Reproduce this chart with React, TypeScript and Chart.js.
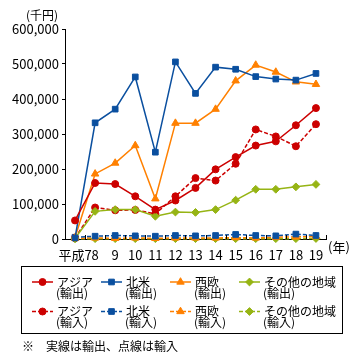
import React, { useEffect, useRef } from "react";
import { Chart, registerables } from "chart.js";

Chart.register(...registerables);

const categories = ["平成7", "8", "9", "10", "11", "12", "13", "14", "15", "16", "17", "18", "19"];

const asiaExport = [53000, 160000, 157000, 122000, 84000, 110000, 146000, 199000, 234000, 267000, 279000, 325000, 374000];
const naExport = [3000, 332000, 371000, 463000, 248000, 506000, 416000, 491000, 485000, 464000, 457000, 454000, 473000];
const euExport = [4000, 186000, 217000, 267000, 115000, 331000, 331000, 371000, 452000, 497000, 477000, 449000, 442000];
const otherExport = [2000, 79000, 84000, 84000, 65000, 77000, 76000, 84000, 111000, 142000, 142000, 149000, 156000];

const asiaImport = [3000, 90000, 82000, 83000, 72000, 122000, 174000, 167000, 215000, 313000, 293000, 265000, 328000];
const naImport = [5000, 8000, 10000, 9000, 8000, 10000, 9000, 10000, 13000, 10000, 9000, 14000, 10000];
const euImport = [2000, 3000, 2000, 3000, 2000, 3000, 3000, 3000, 4000, 3000, 5000, 6000, 7000];
const otherImport = [500, 1000, 1000, 1000, 1000, 1000, 1000, 1000, 1000, 1000, 1000, 1000, 1500];

const seriesNames = ["アジア", "北米", "西欧", "その他の地域"];
const exportLabel = "(輸出)";
const importLabel = "(輸入)";
const yTicks = [0, 100000, 200000, 300000, 400000, 500000, 600000];

const RED = "#cc0000";
const BLUE = "#0a4f9f";
const ORANGE = "#ff8000";
const GREEN = "#96b414";
const FONT = "'Noto Sans CJK JP', 'Noto Sans', sans-serif";

const colors = [RED, BLUE, ORANGE, GREEN];
const styles = ["circle", "rect", "triangle", "rectRot"];
const radii = [3.5, 4, 4.3, 3.9];

function drawMarker(ctx: CanvasRenderingContext2D, style: string, r: number, x: number, y: number) {
  ctx.beginPath();
  if (style === "circle") {
    ctx.arc(x, y, r, 0, Math.PI * 2);
  } else if (style === "rect") {
    const s = Math.SQRT1_2 * r;
    ctx.rect(x - s, y - s, 2 * s, 2 * s);
  } else if (style === "triangle") {
    const a = -Math.PI / 2;
    for (let k = 0; k < 3; k++) {
      const ang = a + (k * 2 * Math.PI) / 3;
      const px = x + Math.cos(ang) * r;
      const py = y + Math.sin(ang) * r;
      if (k === 0) ctx.moveTo(px, py);
      else ctx.lineTo(px, py);
    }
    ctx.closePath();
  } else {
    ctx.moveTo(x, y - r);
    ctx.lineTo(x + r, y);
    ctx.lineTo(x, y + r);
    ctx.lineTo(x - r, y);
    ctx.closePath();
  }
  ctx.fill();
  ctx.stroke();
}

export default function App() {
  const ref = useRef<HTMLCanvasElement | null>(null);

  useEffect(() => {
    if (!ref.current) return;
    const exports = [asiaExport, naExport, euExport, otherExport];
    const imports = [asiaImport, naImport, euImport, otherImport];
    const datasets: any[] = [];
    exports.forEach((d, i) => {
      datasets.push({
        label: seriesNames[i] + exportLabel,
        data: d,
        borderColor: colors[i],
        backgroundColor: colors[i],
        borderWidth: 1.5,
        pointStyle: styles[i],
        pointRadius: radii[i],
        pointBorderWidth: 1,
        pointBackgroundColor: colors[i],
        pointBorderColor: colors[i],
        tension: 0,
        clip: false,
      });
    });
    imports.forEach((d, i) => {
      datasets.push({
        label: seriesNames[i] + importLabel,
        data: d,
        borderColor: colors[i],
        backgroundColor: colors[i],
        borderWidth: 1.5,
        borderDash: [4, 2],
        pointStyle: styles[i],
        pointRadius: radii[i],
        pointBorderWidth: 1,
        pointBackgroundColor: colors[i],
        pointBorderColor: colors[i],
        tension: 0,
        clip: false,
      });
    });

    const extras = {
      id: "extras",
      afterDraw(chart: any) {
        const ctx = chart.ctx;
        const xs = chart.scales.x;
        const area = chart.chartArea;
        ctx.save();
        ctx.strokeStyle = "#000";
        ctx.lineWidth = 1;
        const n = categories.length;
        for (let i = 1; i <= n; i++) {
          const px = Math.round(xs.left + (i * (xs.right - xs.left)) / n) + 0.5;
          ctx.beginPath();
          ctx.moveTo(px, area.bottom);
          ctx.lineTo(px, area.bottom - 4);
          ctx.stroke();
        }
        ctx.fillStyle = "#000";
        ctx.font = "12px " + FONT;
        ctx.textBaseline = "middle";
        ctx.textAlign = "left";
        ctx.fillText("(千円)", 26, 15);
        ctx.font = "13px " + FONT;
        ctx.fillText("(年)", 328, 247);

        ctx.strokeStyle = "#000";
        ctx.lineWidth = 1;
        ctx.strokeRect(21.5, 266.5, 321, 67);
        ctx.font = "12px " + FONT;
        chart.data.datasets.forEach((ds: any, i: number) => {
          const col = i % 4;
          const row = Math.floor(i / 4);
          const x0 = 32 + col * 69;
          const y0 = 282 + row * 29.5;
          ctx.save();
          ctx.strokeStyle = ds.borderColor;
          ctx.lineWidth = 1.5;
          if (ds.borderDash) ctx.setLineDash(ds.borderDash);
          ctx.beginPath();
          ctx.moveTo(x0, y0);
          ctx.lineTo(x0 + 21, y0);
          ctx.stroke();
          ctx.setLineDash([]);
          ctx.fillStyle = ds.borderColor;
          ctx.strokeStyle = ds.borderColor;
          ctx.lineWidth = 1;
          drawMarker(ctx, ds.pointStyle, ds.pointRadius, x0 + 10.5, y0);
          ctx.restore();
          ctx.fillStyle = "#000";
          ctx.fillText(seriesNames[col], x0 + 25, y0);
          ctx.fillText(row === 0 ? exportLabel : importLabel, x0 + 24, y0 + 11);
        });
        ctx.fillText("※　実線は輸出、点線は輸入", 22, 346);
        ctx.restore();
      },
    };

    const chart = new Chart(ref.current, {
      type: "line",
      data: { labels: categories, datasets },
      plugins: [extras],
      options: {
        animation: false,
        responsive: false,
        maintainAspectRatio: false,
        layout: { padding: { top: 29, right: 32, left: 0, bottom: 0 } },
        plugins: { legend: { display: false }, tooltip: { enabled: false }, title: { display: false } },
        scales: {
          x: {
            type: "category",
            offset: true,
            grid: { display: false },
            border: { display: true, color: "#000", width: 1 },
            ticks: {
              color: "#000",
              font: { family: FONT, size: 13 },
              autoSkip: false,
              maxRotation: 0,
              padding: 0,
            },
            afterFit: (s: any) => {
              s.height = 121;
            },
          },
          y: {
            min: 0,
            max: 600000,
            afterBuildTicks: (s: any) => {
              s.ticks = yTicks.map((v) => ({ value: v }));
            },
            grid: { drawOnChartArea: false, tickLength: 3, color: "#000" },
            border: { display: true, color: "#000", width: 1 },
            ticks: {
              color: "#000",
              font: { family: FONT, size: 13 },
              padding: 3,
              callback: (v: any) => Number(v).toLocaleString("en-US"),
            },
            afterFit: (s: any) => {
              s.width = 65;
            },
          },
        },
      },
    });
    return () => chart.destroy();
  }, []);

  return (
    <div style={{ position: "absolute", left: 0, top: 0, width: 358, height: 360 }}>
      <canvas ref={ref} width={358} height={360} style={{ width: 358, height: 360 }} />
    </div>
  );
}
